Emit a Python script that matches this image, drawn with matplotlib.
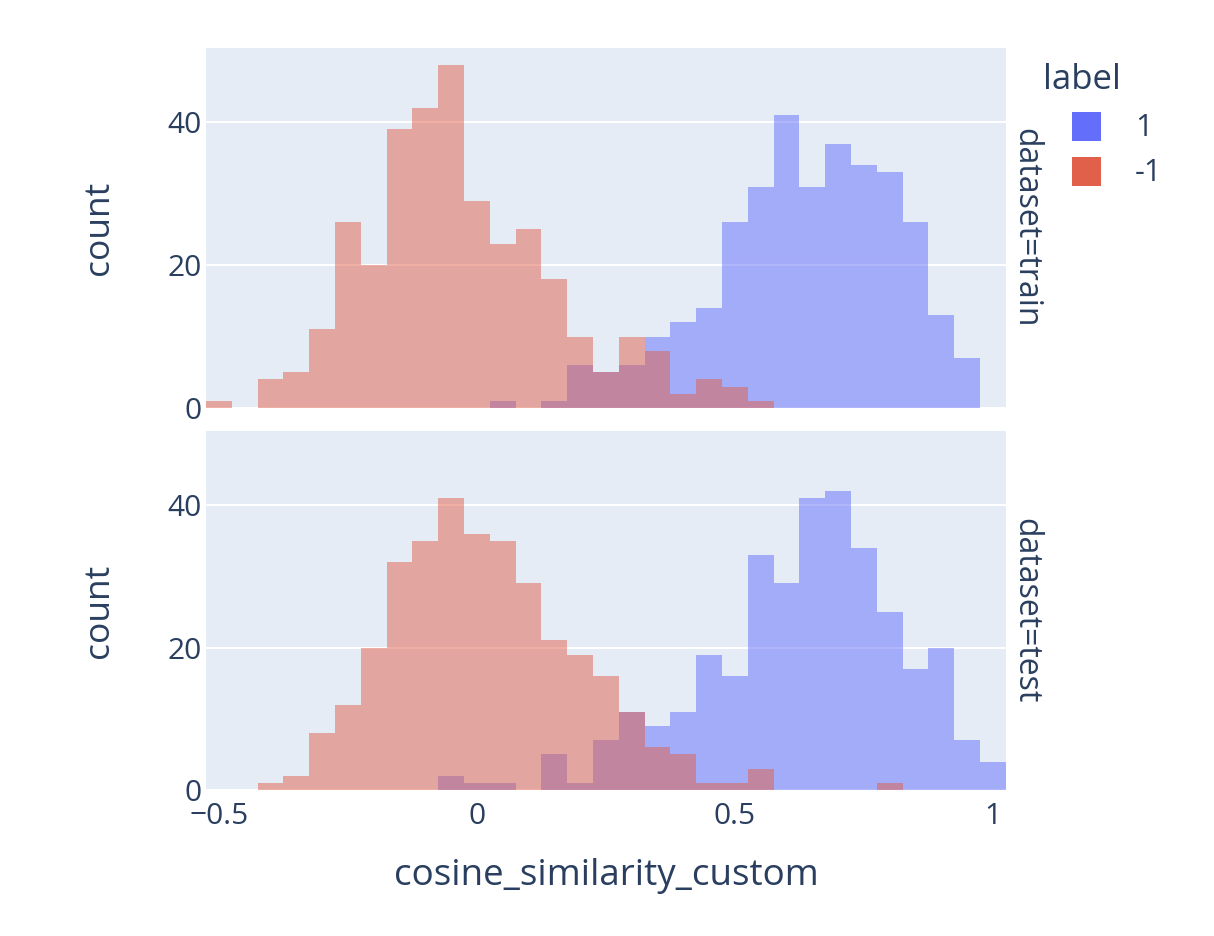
import matplotlib
matplotlib.use("Agg")
import matplotlib.pyplot as plt
from matplotlib.patches import Rectangle

# ---------------- data ----------------
bin_centers = [-0.5, -0.45, -0.4, -0.35, -0.3, -0.25, -0.2, -0.15, -0.1, -0.05,
               0.0, 0.05, 0.1, 0.15, 0.2, 0.25, 0.3, 0.35, 0.4, 0.45,
               0.5, 0.55, 0.6, 0.65, 0.7, 0.75, 0.8, 0.85, 0.9, 0.95, 1.0]
bin_width = 0.05

train_pos = [0, 0, 0, 0, 0, 0, 0, 0, 0, 0,
             0, 1, 0, 1, 6, 5, 6, 10, 12, 14,
             26, 31, 41, 31, 37, 34, 33, 26, 13, 7, 0]
train_neg = [1, 0, 4, 5, 11, 26, 20, 39, 42, 48,
             29, 23, 25, 18, 10, 5, 10, 8, 2, 4,
             3, 1, 0, 0, 0, 0, 0, 0, 0, 0, 0]
test_pos = [0, 0, 0, 0, 0, 0, 0, 0, 0, 2,
            1, 1, 0, 5, 1, 7, 11, 9, 11, 19,
            16, 33, 29, 41, 42, 34, 25, 17, 20, 7, 4]
test_neg = [0, 0, 1, 2, 8, 12, 20, 32, 35, 41,
            36, 35, 29, 21, 19, 16, 11, 6, 5, 1,
            1, 3, 0, 0, 0, 0, 1, 0, 0, 0, 0]

facets = ["dataset=train", "dataset=test"]
legend_title = "label"
legend_labels = ["1", "-1"]
x_ticks = [-0.5, 0, 0.5, 1]
x_tick_labels = ["\u22120.5", "0", "0.5", "1"]
y_ticks = [0, 20, 40]
y_tick_labels = ["0", "20", "40"]
x_title = "cosine_similarity_custom"
y_title = "count"

# ---------------- style ----------------
BLUE = "#636efa"
RED = "#E0604A"
BG = "#E5ECF6"
FONT_C = "#2a3f5f"
plt.rcParams["font.family"] = ["Open Sans", "DejaVu Sans"]

W, H = 1214, 936
fig = plt.figure(figsize=(W / 100, H / 100), dpi=100)

left, right = 206, 1005.7
panels = [(48, 408), (431, 790)]
data = [(train_pos, train_neg), (test_pos, test_neg)]

for i, ((top, bot), (pos, neg)) in enumerate(zip(panels, data)):
    ax = fig.add_axes([left / W, 1 - bot / H, (right - left) / W, (bot - top) / H])
    ax.set_facecolor(BG)
    for s in ax.spines.values():
        s.set_visible(False)
    ax.bar(bin_centers, pos, width=bin_width, color=BLUE, alpha=0.5, linewidth=0, zorder=2)
    ax.bar(bin_centers, neg, width=bin_width, color=RED, alpha=0.5, linewidth=0, zorder=3)
    ax.set_xlim(-0.525, 1.025)
    ax.set_ylim(0, 50.4)
    ax.set_yticks(y_ticks)
    ax.set_yticklabels(y_tick_labels)
    ax.yaxis.grid(True, color="white", linewidth=1.5, zorder=1)
    ax.set_axisbelow(True)
    ax.tick_params(axis="both", length=0, labelsize=21.5, colors=FONT_C)
    ax.tick_params(axis="y", pad=3)
    ax.set_xticks(x_ticks)
    if i == 1:
        ax.set_xticklabels(x_tick_labels)
        ax.tick_params(axis="x", pad=9)
    else:
        ax.set_xticklabels([])
    cy = (top + bot) / 2
    fig.text(99 / W, 1 - cy / H, y_title, rotation=90, ha="center", va="center",
             fontsize=25.5, color=FONT_C)
    fig.text(1026 / W, 1 - cy / H, facets[i], rotation=-90, ha="center", va="center",
             fontsize=23, color=FONT_C)

fig.text(606 / W, 1 - 876 / H, x_title, ha="center", va="center", fontsize=26.5, color=FONT_C)

# legend
fig.text(1043 / W, 1 - 80 / H, legend_title, ha="left", va="center", fontsize=25, color=FONT_C)
for k, (lab, col) in enumerate(zip(legend_labels, [BLUE, RED])):
    y0 = 112 + k * 45
    fig.patches.append(Rectangle((1072 / W, 1 - (y0 + 29) / H), 29 / W, 29 / H,
                                 transform=fig.transFigure, facecolor=col,
                                 edgecolor="none", figure=fig))
    fig.text(1135 / W, 1 - (y0 + 16) / H, lab, ha="left", va="center",
             fontsize=22, color=FONT_C)

fig.savefig("out.png", dpi=100, facecolor="white")
